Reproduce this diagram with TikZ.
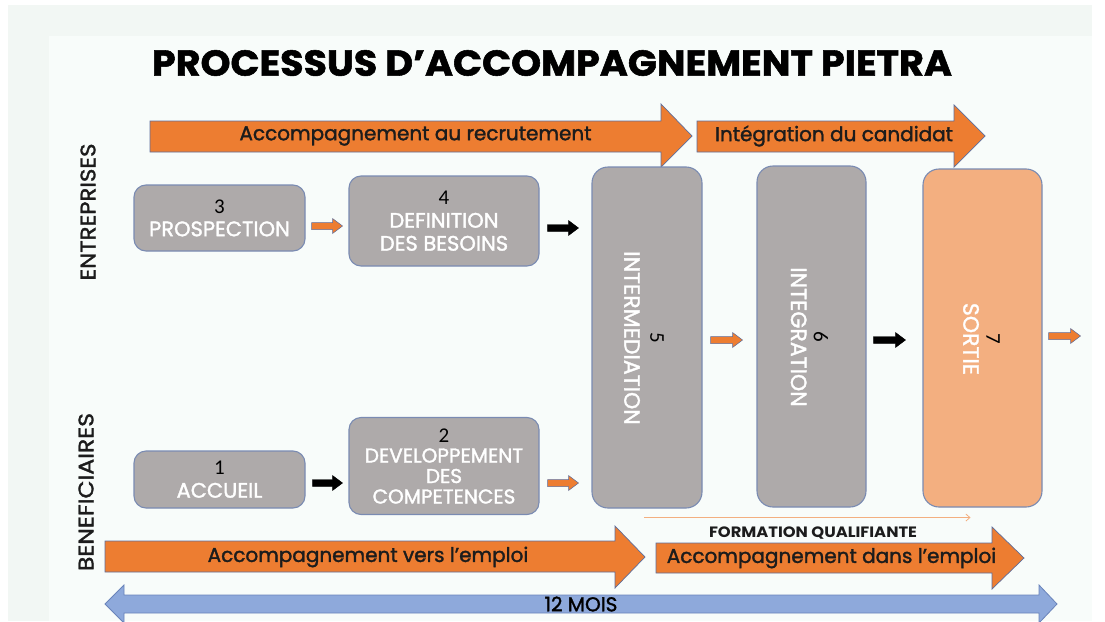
\documentclass[tikz,border=0pt]{standalone}
\usepackage{fontspec}
\setmainfont{Poppins}
\newfontfamily\medfont{Poppins}[FakeBold=1.6]
\newfontfamily\heavyfont{Poppins}[FakeBold=1.5]
\newfontfamily\digitfont{Carlito}
\usetikzlibrary{calc,arrows.meta}

\definecolor{bgouter}{HTML}{F2F7F4}
\definecolor{bginner}{HTML}{F8FCFA}
\definecolor{boxgray}{HTML}{AEAAAA}
\definecolor{boxline}{HTML}{7A8BB2}
\definecolor{orangeA}{HTML}{ED7D31}
\definecolor{orangeL}{HTML}{F3AF80}
\definecolor{arrline}{HTML}{5E6E9C}
\definecolor{blueA}{HTML}{8EA9DB}
\definecolor{blueL}{HTML}{6A84BA}
\definecolor{ink}{HTML}{1C1C1C}

% small block arrow: #1 style, #2 start point (middle of tail), #3 length
\newcommand\linkarrow[3]{%
  \path[#1] (#2) ++(0,-3.5) -- ++({#3-10},0) -- ++(0,-4) -- ++(10,7.5)
    -- ++(-10,7.5) -- ++(0,-4) -- ++({-(#3-10)},0) -- cycle;}
% black stage number
\newcommand\stagenum[1]{{\digitfont\fontsize{21}{21}\selectfont\color{black}#1}}

\tikzset{
  stepbox/.style={draw=boxline, line width=1.1pt, fill=boxgray, rounded corners=12pt,
    text=white, align=center, font=\medfont\fontsize{21}{23}\selectfont, inner sep=0pt},
  tallbox/.style={stepbox, rounded corners=16pt},
  endbox/.style={tallbox, fill=orangeL},
  talltext/.style={rotate=-90, text=white, align=center, inner sep=0pt},
  bandarrow/.style={fill=orangeA, draw=arrline, line width=0.7pt, line join=miter},
  bandlabel/.style={text=ink, font=\medfont\fontsize{20}{20}\selectfont, inner sep=0pt},
  sidelabel/.style={text=ink, font=\medfont\fontsize{21}{21}\selectfont, rotate=90, inner sep=0pt},
  oarrow/.style={fill=orangeA, draw=arrline, line width=0.5pt},
  karrow/.style={fill=black, draw=black, line width=0.4pt},
}

\begin{document}
\begin{tikzpicture}[x=1pt, y=-1pt]
\useasboundingbox (0,0) rectangle (1105,621);
% page background
\fill[white] (0,0) rectangle (1105,621);
\fill[bgouter] (8,5) rectangle (1092,621);
\fill[bginner] (49,36) rectangle (1092,621);

% title
\node[font=\heavyfont\fontsize{36}{36}\selectfont\bfseries, text=black, inner sep=0pt] (title) at (552,63)
  {\resizebox{800pt}{\height}{PROCESSUS D’ACCOMPAGNEMENT PIETRA}};

% upper band arrows
\path[bandarrow] (150,121) -- (661,121) -- (661,104) -- (692,136) -- (661,167) -- (661,152) -- (150,152) -- cycle;
\node[bandlabel] (recrut) at (415.5,136) {Accompagnement au recrutement};
\path[bandarrow] (697,121) -- (954,121) -- (954,105) -- (985,136) -- (954,167) -- (954,152) -- (697,152) -- cycle;
\node[bandlabel] (integ) at (834,136) {Intégration du candidat};

% lower band arrows
\path[bandarrow] (105,541) -- (615,541) -- (615,526) -- (645,557) -- (615,588) -- (615,572) -- (105,572) -- cycle;
\node[bandlabel] (vers) at (368,557) {Accompagnement vers l’emploi};
\path[bandarrow] (656,543) -- (992,543) -- (992,527) -- (1024,558) -- (992,589) -- (992,573) -- (656,573) -- cycle;
\node[bandlabel] (dans) at (831.5,558) {Accompagnement dans l’emploi};

% twelve-month span
\path[fill=blueA, draw=blueL, line width=0.8pt] (105,604) -- (124,585) -- (124,595) -- (1039,595) -- (1039,585)
  -- (1057,604) -- (1039,623) -- (1039,613) -- (124,613) -- (124,623) -- cycle;
\node[text=black, font=\medfont\fontsize{20}{20}\selectfont, inner sep=0pt] (mois) at (581,604) {12 MOIS};

% row labels
\node[sidelabel] (ent) at (88,212) {\resizebox{137pt}{\height}{ENTREPRISES}};
\node[sidelabel] (ben) at (86,492) {\resizebox{158pt}{\height}{BENEFICIAIRES}};

% company row
\node[stepbox, minimum width=171pt, minimum height=66pt] (b3) at (219.5,218)
  {\stagenum{3}\\PROSPECTION};
\node[stepbox, minimum width=190pt, minimum height=90pt] (b4) at (444,221)
  {\stagenum{4}\\DEFINITION\\DES BESOINS};

% beneficiary row
\node[stepbox, minimum width=171pt, minimum height=57pt] (b1) at (219.5,479.5)
  {\stagenum{1}\\ACCUEIL};
\node[stepbox, minimum width=190pt, minimum height=97pt, font=\medfont\fontsize{20}{20.5}\selectfont] (b2) at (444,466)
  {\stagenum{2}\\DEVELOPPEMENT\\DES\\COMPETENCES};

% shared stages
\node[tallbox, minimum width=110pt, minimum height=341pt] (b5) at (647,337.5) {};
\node[tallbox, minimum width=109pt, minimum height=341pt] (b6) at (811.5,336.5) {};
\node[endbox, minimum width=119pt, minimum height=338pt] (b7) at (982.5,338) {};
\node[talltext, font=\medfont\fontsize{22}{26}\selectfont] (t5) at (644,338)
  {\stagenum{5}\\INTERMEDIATION};
\node[talltext, font=\medfont\fontsize{22}{23}\selectfont] (t6) at (809.5,337)
  {\stagenum{6}\\INTEGRATION};
\node[talltext, font=\medfont\fontsize{22}{23}\selectfont] (t7) at (981.5,339)
  {\stagenum{7}\\SORTIE};

% links between stages
\linkarrow{oarrow}{$(b3.east)+(6,8)$}{31}
\linkarrow{karrow}{$(b4.east)+(8,7)$}{31}
\linkarrow{karrow}{$(b1.east)+(7,3.5)$}{30}
\linkarrow{oarrow}{$(b2.east)+(8,17)$}{31}
\linkarrow{oarrow}{$(b5.east)+(8,2.5)$}{32}
\linkarrow{karrow}{$(b6.east)+(7,3.5)$}{32}
\linkarrow{oarrow}{$(b7.east)+(6,-2)$}{32}

% qualifying training span
\coordinate (fqs) at ($(b5.south)+(-3,9)$);
\coordinate (fqe) at ($(b7.south)+(-12,10)$);
\draw[orangeL, line width=0.8pt, -{Straight Barb[length=4pt,width=7pt]}] (fqs) -- (fqe);
\node[text=ink, font=\fontsize{15}{15}\selectfont\bfseries, inner sep=0pt] (fq) at (813,533)
  {\resizebox{208pt}{\height}{FORMATION QUALIFIANTE}};
\end{tikzpicture}
\end{document}
